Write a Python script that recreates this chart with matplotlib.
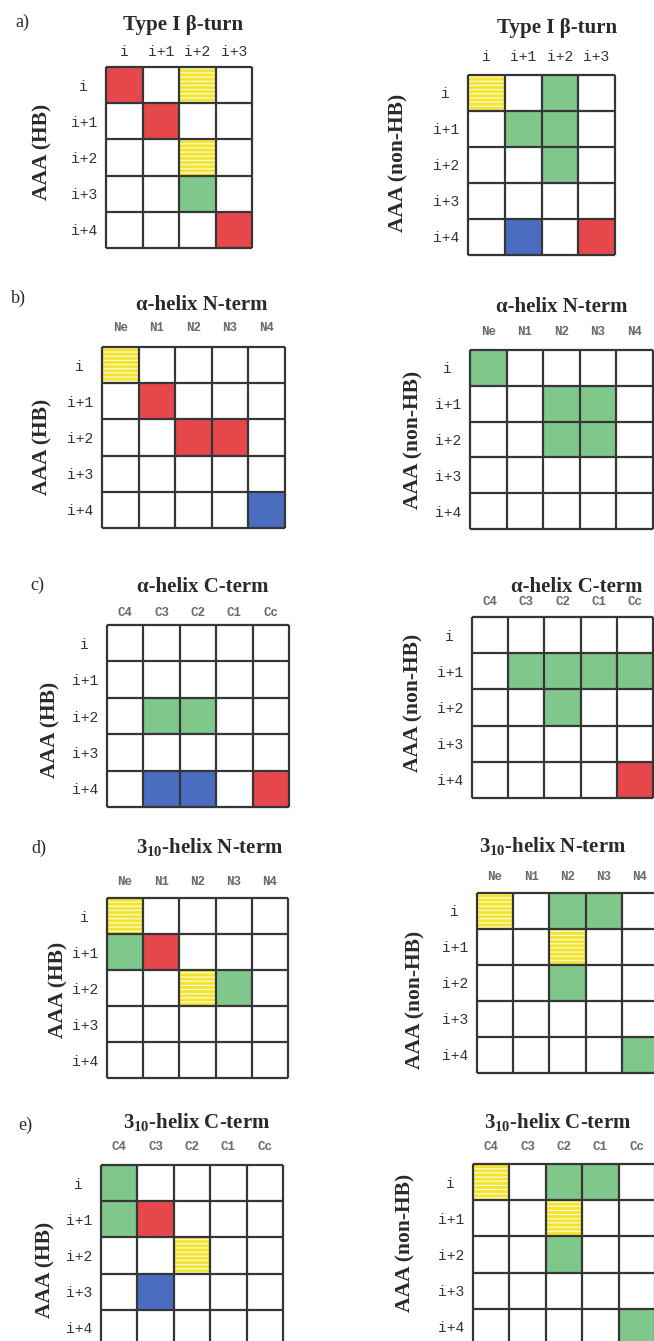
import numpy as np
import matplotlib.pyplot as plt
from matplotlib.colors import ListedColormap
from matplotlib.patches import Rectangle

plt.rcParams['mathtext.fontset'] = 'custom'
plt.rcParams['mathtext.rm'] = 'Liberation Serif:bold'
plt.rcParams['mathtext.bf'] = 'Liberation Serif:bold'
plt.rcParams['hatch.linewidth'] = 0.9

# cell codes: . empty, r red, y yellow (striped), g green, b blue
codes = '.rygb'
fills = ['white', '#e5474b', '#f3e42e', '#7fc78b', '#4b6dc0']
line_color = '#363636'

rows_aaa = ['i', 'i+1', 'i+2', 'i+3', 'i+4']
cols_turn = ['i', 'i+1', 'i+2', 'i+3']
cols_nterm = ['Ne', 'N1', 'N2', 'N3', 'N4']
cols_cterm = ['C4', 'C3', 'C2', 'C1', 'Cc']

turn_hb = ['r.y.', '.r..', '..y.', '..g.', '...r']
turn_nonhb = ['y.g.', '.gg.', '..g.', '....', '.b.r']
anterm_hb = ['y....', '.r...', '..rr.', '.....', '....b']
anterm_nonhb = ['g....', '..gg.', '..gg.', '.....', '.....']
acterm_hb = ['.....', '.....', '.gg..', '.....', '.bb.r']
acterm_nonhb = ['.....', '.gggg', '..g..', '.....', '....r']
tnterm_hb = ['y....', 'gr...', '..yg.', '.....', '.....']
tnterm_nonhb = ['y.gg.', '..y..', '..g..', '.....', '....g']
tcterm_hb = ['g....', 'gr...', '..y..', '.b...', '.....']
tcterm_nonhb = ['y.gg.', '..y..', '..g..', '.....', '....g']

t_turn = 'Type I β-turn'
t_anterm = 'α-helix N-term'
t_acterm = 'α-helix C-term'
t_tnterm = '3$_{\\mathregular{10}}$-helix N-term'
t_tcterm = '3$_{\\mathregular{10}}$-helix C-term'

W, H = 654, 1341
fig = plt.figure(figsize=(W / 100, H / 100), dpi=100)
cmap = ListedColormap(fills)

# (cells, cols, title, ylabel, grid box l,t,r,b px, title xy px, ylabel xy px, col label offset px)
panels = [
    (turn_hb, cols_turn, t_turn, 'AAA (HB)', (106, 67, 252, 248), (183, 25), (42, 152), 15),
    (turn_nonhb, cols_turn, t_turn, 'AAA (non-HB)', (468, 75, 615, 255), (557, 28), (398, 163), 18),
    (anterm_hb, cols_nterm, t_anterm, 'AAA (HB)', (102, 347, 285, 528), (202, 305), (42, 447), 19),
    (anterm_nonhb, cols_nterm, t_anterm, 'AAA (non-HB)', (470, 350, 653, 529), (562, 307), (413, 440), 18),
    (acterm_hb, cols_cterm, t_acterm, 'AAA (HB)', (107, 625, 289, 807), (203, 587), (50, 730), 12),
    (acterm_nonhb, cols_cterm, t_acterm, 'AAA (non-HB)', (472, 617, 653, 798), (577, 587), (413, 703), 15),
    (tnterm_hb, cols_nterm, t_tnterm, 'AAA (HB)', (107, 898, 288, 1078), (210, 848), (58, 990), 16),
    (tnterm_nonhb, cols_nterm, t_tnterm, 'AAA (non-HB)', (477, 893, 658, 1073), (553, 847), (415, 1000), 16),
    (tcterm_hb, cols_cterm, t_tcterm, 'AAA (HB)', (101, 1165, 283, 1346), (197, 1123), (45, 1270), 18),
    (tcterm_nonhb, cols_cterm, t_tcterm, 'AAA (non-HB)', (473, 1164, 655, 1345), (558, 1123), (405, 1243), 17),
]
letters = [('a)', 22, 22), ('b)', 18, 298), ('c)', 37, 585), ('d)', 39, 848), ('e)', 25, 1125)]


def fx(x):
    return x / W


def fy(y):
    return 1 - y / H


for cells, cols, title, ylab, box, tpos, ypos, coff in panels:
    l, t, r, b = box
    ax = fig.add_axes([fx(l), fy(b), (r - l) / W, (b - t) / H])
    z = np.array([[codes.index(c) for c in row] for row in cells])
    nr, nc = z.shape
    ax.pcolormesh(np.arange(nc + 1), np.arange(nr + 1), z, cmap=cmap,
                  vmin=-0.5, vmax=len(codes) - 0.5)
    # white stripes on the yellow cells
    for rr, cc in zip(*np.nonzero(z == codes.index('y'))):
        ax.add_patch(Rectangle((cc, rr), 1, 1, facecolor='none',
                               edgecolor=(1, 1, 1, 0.8), hatch='----', linewidth=0))
    ax.hlines(np.arange(nr + 1), 0, nc, color=line_color, lw=1.6, clip_on=False)
    ax.vlines(np.arange(nc + 1), 0, nr, color=line_color, lw=1.6, clip_on=False)
    ax.set_xlim(0, nc)
    ax.set_ylim(nr, 0)
    for s in ax.spines.values():
        s.set_visible(False)

    small = len(cols) == 5
    ax.xaxis.tick_top()
    ax.set_xticks(np.arange(nc) + 0.5, cols, family='Liberation Mono',
                  fontsize=9 if small else 10.5, color='#6a6a6a' if small else '#333333',
                  weight='bold' if small else 'normal')
    ax.set_yticks(np.arange(nr) + 0.5, rows_aaa, family='Liberation Mono',
                  fontsize=10.5, color='#333333')
    ax.tick_params(axis='x', length=0, pad=coff * 0.72)
    ax.tick_params(axis='y', length=0, pad=16)
    for lab in ax.get_xticklabels():
        lab.set_va('center')
    for lab in ax.get_yticklabels():
        lab.set_ha('center')

    fig.text(fx(tpos[0]), fy(tpos[1]), title, ha='center', va='center',
             family='Liberation Serif', weight='bold', fontsize=15, color='#2a2a2a')
    fig.text(fx(ypos[0]), fy(ypos[1]), ylab, ha='center', va='center', rotation=90,
             family='Liberation Serif', weight='bold', fontsize=15.5, color='#2a2a2a')

for txt, x, y in letters:
    fig.text(fx(x), fy(y), txt, ha='center', va='center',
             family='Liberation Serif', fontsize=13, color='#2a2a2a')

fig.savefig('out.png', dpi=100, facecolor='white')
